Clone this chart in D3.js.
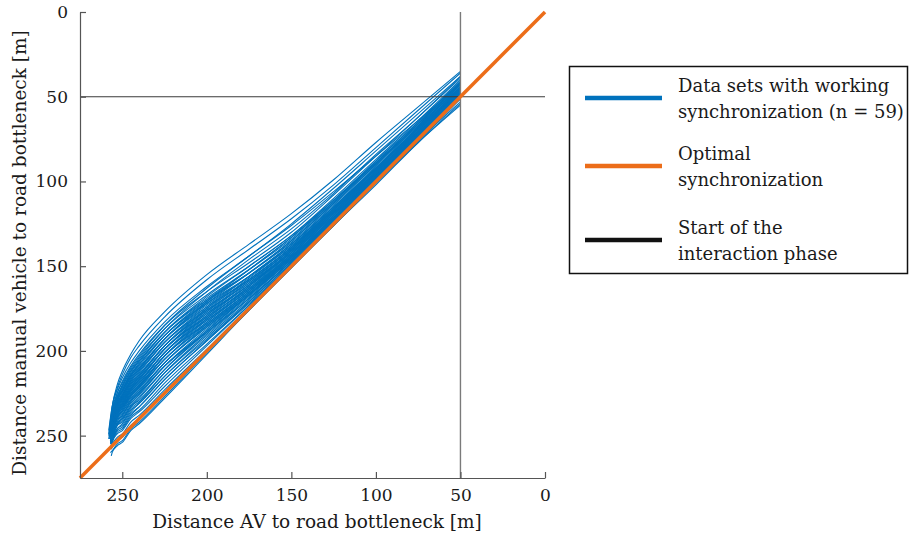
<!DOCTYPE html>
<html>
<head>
<meta charset="utf-8">
<script src="https://cdn.jsdelivr.net/npm/d3@7/dist/d3.min.js"></script>
<style>
body { margin: 0; background: #fff; }
svg text { font-family: "DejaVu Serif", serif; fill: #1a1a1a; }
</style>
</head>
<body>
<svg id="chart" width="923" height="537"></svg>
<script>
// AV distance [m] where every run is sampled (after its own start point)
const avGrid = [256, 253, 250, 245, 240, 225, 200, 175, 150, 125, 100, 75, 50];

// start point of each of the 59 runs
const avStart = [258, 257.5, 258, 257.5, 257, 258, 257, 257.5, 256.5, 257,
                 258, 256.5, 257, 257.5, 256.5, 257, 256.5, 257.5, 256.5, 257,
                 257, 256.5, 257.5, 256.5, 256.5, 257, 256.5, 256.5, 256.5, 257,
                 256.5, 256.5, 257, 256.5, 257, 256.5, 257, 256.5, 256.5, 257,
                 256.5, 257, 256.5, 257, 256.5, 257, 256.5, 257, 256.5, 257,
                 256.5, 257, 256.5, 257, 256.5, 257, 256.5, 257, 256.5];
const mvStart = [249, 250, 247, 251, 248, 250, 252, 249, 251, 247,
                 252, 249, 251, 248, 252, 250, 249, 252, 250, 248,
                 253, 251, 250, 252, 249, 252, 250, 253, 251, 250,
                 252, 253, 250, 253, 251, 254, 252, 250, 254, 253,
                 251, 254, 252, 254, 253, 255, 252, 254, 256, 253,
                 255, 254, 256, 255, 256, 257, 258, 260, 262];

// manual vehicle distance [m] of each run at the avGrid positions
const mvRuns = [
  [233, 220, 212, 202, 194, 177, 155, 137, 119, 99, 77, 56, 35],
  [234, 222, 214, 204, 197, 180, 158, 140, 122, 102, 80, 58, 36],
  [233, 223, 216, 207, 200, 183, 162, 144, 125, 104, 82, 60, 38],
  [236, 225, 218, 209, 202, 185, 165, 148, 130, 108, 85, 62, 39],
  [239, 225, 219, 210, 203, 185, 163, 144, 126, 106, 85, 64, 42],
  [237, 227, 220, 211, 204, 187, 167, 150, 132, 110, 87, 64, 40],
  [243, 228, 221, 212, 205, 187, 165, 146, 128, 107, 84, 62, 38],
  [236, 227, 221, 212, 206, 189, 169, 152, 134, 112, 88, 65, 41],
  [245, 229, 223, 214, 207, 189, 168, 150, 132, 111, 89, 66, 43],
  [240, 228, 222, 213, 206, 189, 170, 154, 136, 114, 90, 66, 42],
  [239, 229, 223, 214, 208, 191, 171, 154, 135, 113, 89, 66, 42],
  [244, 230, 224, 215, 209, 191, 170, 152, 133, 111, 88, 65, 41],
  [243, 230, 224, 215, 208, 191, 172, 156, 138, 116, 92, 68, 44],
  [237, 229, 224, 216, 210, 193, 173, 156, 137, 115, 91, 67, 43],
  [247, 232, 226, 217, 211, 193, 172, 154, 135, 113, 90, 67, 44],
  [243, 231, 225, 216, 210, 193, 174, 158, 139, 117, 93, 69, 45],
  [244, 231, 226, 217, 211, 193, 171, 152, 133, 112, 89, 66, 42],
  [240, 232, 226, 218, 212, 195, 175, 158, 139, 116, 92, 68, 44],
  [245, 232, 227, 219, 213, 195, 174, 156, 137, 115, 92, 69, 45],
  [242, 232, 227, 218, 212, 195, 176, 160, 141, 118, 94, 70, 46],
  [245, 233, 227, 219, 214, 197, 177, 159, 140, 117, 93, 69, 45],
  [246, 233, 228, 220, 214, 197, 176, 157, 138, 116, 93, 69, 46],
  [239, 233, 228, 220, 215, 197, 178, 161, 142, 119, 95, 71, 47],
  [247, 234, 229, 221, 215, 197, 175, 156, 137, 115, 92, 68, 44],
  [245, 233, 229, 221, 216, 199, 179, 161, 141, 118, 94, 70, 46],
  [245, 235, 230, 222, 216, 199, 178, 159, 140, 117, 94, 70, 47],
  [246, 234, 229, 222, 217, 199, 180, 163, 143, 120, 96, 72, 48],
  [249, 236, 231, 223, 217, 199, 177, 158, 139, 116, 93, 69, 45],
  [247, 235, 230, 223, 218, 201, 181, 162, 142, 119, 95, 70, 46],
  [244, 235, 231, 223, 218, 201, 180, 161, 141, 118, 95, 71, 47],
  [248, 236, 231, 224, 219, 201, 182, 164, 144, 121, 97, 72, 48],
  [249, 237, 232, 224, 219, 201, 179, 160, 140, 118, 94, 71, 48],
  [246, 236, 232, 225, 220, 203, 183, 164, 143, 120, 96, 71, 47],
  [249, 237, 233, 225, 220, 203, 182, 163, 142, 119, 95, 71, 47],
  [247, 237, 233, 226, 221, 203, 184, 165, 145, 122, 98, 73, 49],
  [250, 238, 234, 226, 221, 203, 181, 162, 141, 119, 96, 72, 49],
  [248, 237, 233, 226, 221, 205, 184, 165, 144, 121, 96, 72, 47],
  [247, 238, 234, 227, 222, 205, 185, 166, 145, 121, 97, 73, 48],
  [250, 239, 235, 227, 222, 205, 183, 164, 143, 120, 97, 73, 50],
  [249, 239, 235, 228, 223, 207, 186, 166, 145, 122, 97, 73, 48],
  [248, 239, 236, 229, 224, 207, 186, 167, 146, 122, 98, 73, 49],
  [250, 240, 236, 229, 224, 207, 185, 165, 144, 121, 97, 74, 50],
  [249, 240, 237, 230, 225, 209, 188, 167, 146, 122, 98, 73, 48],
  [251, 242, 238, 231, 226, 209, 187, 167, 145, 122, 98, 74, 50],
  [250, 241, 238, 230, 225, 209, 189, 169, 147, 123, 99, 74, 49],
  [252, 243, 239, 232, 227, 211, 189, 168, 146, 123, 98, 74, 49],
  [250, 243, 240, 233, 228, 211, 188, 167, 145, 122, 98, 74, 51],
  [251, 243, 240, 233, 229, 213, 191, 169, 147, 123, 99, 74, 49],
  [253, 244, 241, 234, 230, 213, 190, 169, 147, 124, 100, 75, 51],
  [251, 244, 242, 235, 231, 215, 192, 170, 147, 123, 99, 75, 50],
  [253, 246, 243, 236, 231, 215, 193, 171, 148, 124, 100, 75, 51],
  [252, 246, 244, 237, 233, 217, 194, 171, 148, 124, 99, 75, 50],
  [254, 247, 245, 238, 233, 217, 194, 172, 149, 125, 100, 76, 51],
  [253, 248, 246, 239, 235, 219, 196, 173, 149, 125, 100, 75, 51],
  [254, 249, 247, 240, 236, 221, 197, 173, 149, 125, 100, 75, 51],
  [255, 251, 249, 242, 238, 223, 199, 174, 150, 125, 100, 76, 51],
  [257, 253, 251, 244, 240, 225, 200, 175, 150, 126, 101, 76, 53],
  [259, 255, 253, 246, 242, 227, 201, 176, 151, 126, 102, 77, 54],
  [260, 256, 254, 247, 243, 228, 202, 176, 151, 126, 101, 77, 55]
];

const xTicks = [250, 200, 150, 100, 50, 0];
const yTicks = [0, 50, 100, 150, 200, 250];
const optimalLine = [[275, 275], [0, 0]];   // AV distance == MV distance
const interactionStart = 50;               // both vehicles at 50 m

const legendLabels = [
  ["Data sets with working", "synchronization (n = 59)"],
  ["Optimal", "synchronization"],
  ["Start of the", "interaction phase"]
];
const color_run = "#0072bd";
const color_optimal = "#ec6d19";
const color_start = "#111111";
const legendColors = [color_run, color_optimal, color_start];

var svg = d3.select("#chart");

var xScale = d3.scaleLinear().domain([275, 0]).range([80, 545]);
var yScale = d3.scaleLinear().domain([0, 275]).range([12, 478]);

// pixel x grows along every run, so monotoneX keeps the steep start without overshoot
var runLine = d3.line()
    .x(d => xScale(d[0]))
    .y(d => yScale(d[1]))
    .curve(d3.curveMonotoneX);

// one path per data set
var runs = mvRuns.map(function(row, i) {
    var pts = [[avStart[i], mvStart[i]]];
    avGrid.forEach(function(av, j) { pts.push([av, row[j]]); });
    return pts;
});

svg.append("g")
    .attr("class", "runs")
    .selectAll("path")
    .data(runs)
    .enter()
    .append("path")
    .attr("d", runLine)
    .attr("fill", "none")
    .attr("stroke", color_run)
    .attr("stroke-width", 1.1);

// start of interaction phase (crosshair at 50 m / 50 m)
svg.append("line")
    .attr("x1", xScale(275)).attr("x2", xScale(0))
    .attr("y1", yScale(interactionStart)).attr("y2", yScale(interactionStart))
    .attr("stroke", "#3a3a3a")
    .attr("stroke-width", 1.2);
svg.append("line")
    .attr("x1", xScale(interactionStart)).attr("x2", xScale(interactionStart))
    .attr("y1", yScale(0)).attr("y2", yScale(275))
    .attr("stroke", "#7a7a7a")
    .attr("stroke-width", 1.4);

// optimal synchronization
svg.append("path")
    .datum(optimalLine)
    .attr("d", d3.line().x(d => xScale(d[0])).y(d => yScale(d[1])))
    .attr("fill", "none")
    .attr("stroke", color_optimal)
    .attr("stroke-width", 3.5);

// axes, ticks pointing inwards like matlab
var xAxis = d3.axisBottom(xScale).tickValues(xTicks).tickSizeInner(-6).tickSizeOuter(0).tickPadding(11);
var yAxis = d3.axisLeft(yScale).tickValues(yTicks).tickSizeInner(-6).tickSizeOuter(0).tickPadding(12);

var gx = svg.append("g")
    .attr("transform", `translate(0,${yScale(275)})`)
    .call(xAxis);
var gy = svg.append("g")
    .attr("transform", `translate(${xScale(275)},0)`)
    .call(yAxis);

[gx, gy].forEach(function(g) {
    g.select(".domain").attr("stroke", "#555").attr("stroke-width", 1.2);
    g.selectAll(".tick line").attr("stroke", "#555").attr("stroke-width", 1.2);
    g.selectAll(".tick text")
        .attr("font-family", "DejaVu Serif")
        .attr("font-size", 17)
        .attr("fill", "#1a1a1a");
});

svg.append("text") // x label
    .attr("x", 317)
    .attr("y", 528)
    .attr("text-anchor", "middle")
    .attr("font-size", 18.5)
    .text("Distance AV to road bottleneck [m]");

svg.append("text") // y label
    .attr("transform", "translate(26,253) rotate(-90)")
    .attr("text-anchor", "middle")
    .attr("font-size", 18.5)
    .text("Distance manual vehicle to road bottleneck [m]");

// legend
var legend = svg.append("g").attr("class", "legend");
legend.append("rect")
    .attr("x", 569.5).attr("y", 66.5)
    .attr("width", 338).attr("height", 207)
    .attr("fill", "#fff")
    .attr("stroke", "#111")
    .attr("stroke-width", 1.5);

var rowY = [98, 166, 240];
legendLabels.forEach(function(lines, i) {
    legend.append("line")
        .attr("x1", 585).attr("x2", 662)
        .attr("y1", rowY[i]).attr("y2", rowY[i])
        .attr("stroke", legendColors[i])
        .attr("stroke-width", 4.5);
    legend.append("text")
        .attr("x", 678)
        .attr("y", rowY[i] - 6)
        .attr("font-size", 18)
        .text(lines[0]);
    legend.append("text")
        .attr("x", 678)
        .attr("y", rowY[i] + 20)
        .attr("font-size", 18)
        .text(lines[1]);
});
</script>
</body>
</html>
